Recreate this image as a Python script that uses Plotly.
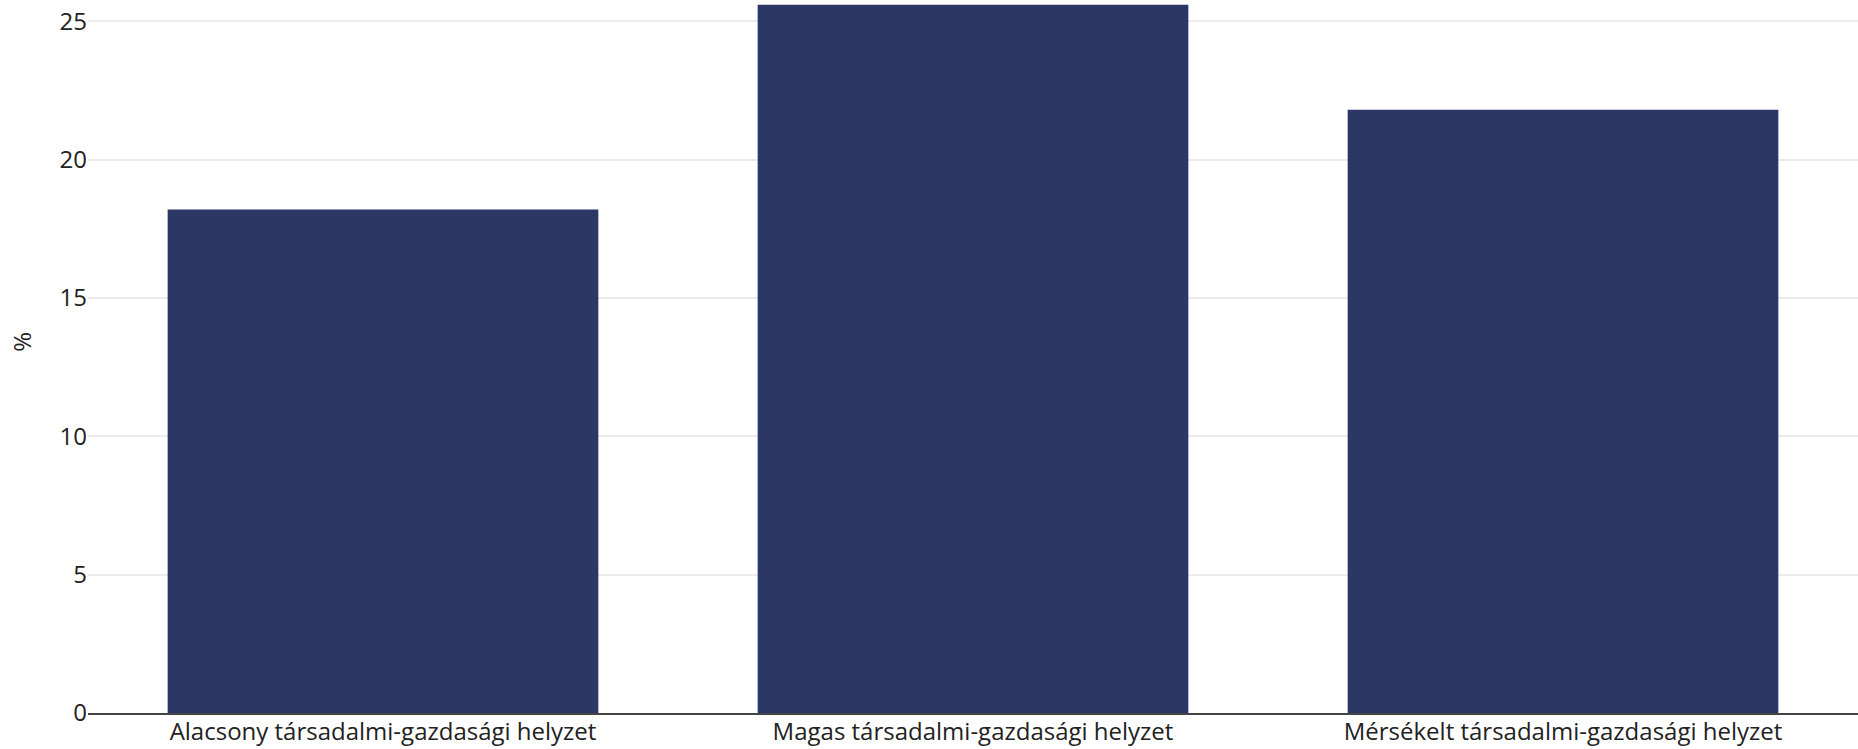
import plotly.graph_objects as go

categories = [
    "Alacsony társadalmi-gazdasági helyzet",
    "Magas társadalmi-gazdasági helyzet",
    "Mérsékelt társadalmi-gazdasági helyzet",
]
values = [18.2, 25.6, 21.8]
y_ticks = [0, 5, 10, 15, 20, 25]
y_title = "%"

FONT = "Open Sans"
fig = go.Figure(
    go.Bar(
        x=categories,
        y=values,
        marker=dict(color="#2B3764", line=dict(width=0)),
        hoverinfo="x+y",
    )
)
fig.update_layout(
    width=1858,
    height=749,
    margin=dict(l=88, r=0, t=0, b=36, autoexpand=False),
    paper_bgcolor="white",
    plot_bgcolor="white",
    bargap=0.27,
    showlegend=False,
    font=dict(family=FONT, size=24, color="#222222"),
    xaxis=dict(
        showgrid=False,
        showline=True,
        linecolor="#444444",
        linewidth=1.5,
        ticks="",
        automargin=False,
        ticklabelstandoff=-4,
        tickfont=dict(size=24),
    ),
    yaxis=dict(
        range=[0, 25.77],
        tickvals=y_ticks,
        showgrid=True,
        gridcolor="#EBEBEB",
        gridwidth=1.5,
        zeroline=False,
        showline=False,
        ticks="",
        automargin=False,
        tickfont=dict(size=24),
    ),
    annotations=[
        dict(
            text=y_title,
            xref="paper",
            yref="paper",
            x=-66 / 1770,
            y=0.5206,
            xanchor="center",
            yanchor="middle",
            textangle=-90,
            showarrow=False,
            font=dict(size=24, family=FONT, color="#222222"),
        )
    ],
)
fig.write_html(
    "out.html",
    config={"displayModeBar": False},
    post_script="document.body.style.margin='0';document.body.style.overflow='hidden';",
)
